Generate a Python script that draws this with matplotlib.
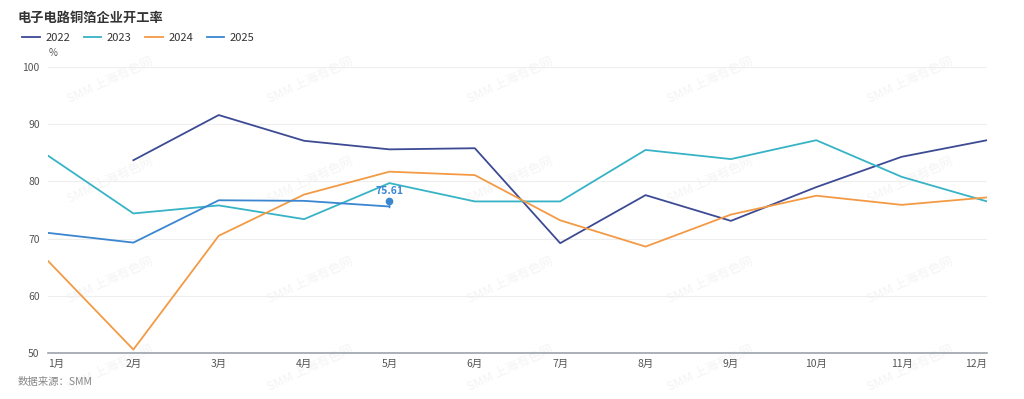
import matplotlib
matplotlib.use('Agg')
import matplotlib.pyplot as plt
import numpy as np

plt.rcParams['font.family'] = ['Noto Sans CJK SC', 'DejaVu Sans']

months = ['1月', '2月', '3月', '4月', '5月', '6月', '7月', '8月', '9月', '10月', '11月', '12月']
y2022 = [np.nan, 83.7, 91.6, 87.1, 85.6, 85.8, 69.2, 77.6, 73.1, 79.0, 84.3, 87.2]
y2023 = [84.5, 74.4, 75.8, 73.4, 79.7, 76.5, 76.5, 85.5, 83.9, 87.2, 80.8, 76.5]
y2024 = [66.1, 50.6, 70.5, 77.7, 81.7, 81.1, 73.2, 68.6, 74.2, 77.5, 75.9, 77.2]
y2025 = [71.0, 69.3, 76.7, 76.6, 75.61]
yticks = [50, 60, 70, 80, 90, 100]

series = [('2022', y2022, '#3d4a94'),
          ('2023', y2023, '#37b3c6'),
          ('2024', y2024, '#f39a45'),
          ('2025', y2025, '#3a86d1')]

fig = plt.figure(figsize=(10.24, 3.99), dpi=100)
ax = fig.add_axes([48/1024, 46/399, 939/1024, 286/399])

# watermark (behind everything)
for wx in [110, 310, 510, 710, 910]:
    for wy in [80, 180, 280, 368]:
        fig.text(wx/1024, 1 - wy/399, 'SMM 上海有色网', rotation=25, fontsize=9,
                 color='#f4f4f4', ha='center', va='center', zorder=-5)

x = np.arange(1, 13)
for name, vals, col in series:
    ax.plot(x[:len(vals)], vals, color=col, lw=1.3, label=name, zorder=3)

# last 2025 point label with pin marker
ax.plot(5, y2025[-1] + 1.0, marker='o', ms=4.5, color='#3a86d1', zorder=4)
ax.plot([5, 5], [y2025[-1], y2025[-1] + 1.0], color='#3a86d1', lw=1, zorder=4)
ax.text(5, y2025[-1] + 1.9, '%.2f' % y2025[-1], color='#3a86d1', fontsize=7.5,
        fontweight='bold', ha='center', va='bottom', zorder=5)

ax.set_xlim(1, 12)
ax.set_ylim(50, 100)
ax.set_xticks(x)
ax.set_xticklabels(months)
labels = ax.get_xticklabels()
labels[0].set_ha('left')
labels[-1].set_ha('right')
ax.set_yticks(yticks)
ax.tick_params(axis='both', length=0, labelsize=7.5, labelcolor='#555555')
ax.tick_params(axis='x', pad=4)
ax.tick_params(axis='y', pad=6)
ax.grid(axis='y', color='#eeeeee', lw=0.8)
ax.set_axisbelow(True)
for s in ['top', 'right', 'left']:
    ax.spines[s].set_visible(False)
ax.spines['bottom'].set_color('#9ca3ab')
ax.spines['bottom'].set_linewidth(1.2)
ax.patch.set_alpha(0)

fig.text(49/1024, 1 - 53/399, '%', fontsize=7, color='#555555', ha='left', va='center')
fig.text(18/1024, 1 - 18/399, '电子电路铜箔企业开工率', fontsize=9.5, fontweight='bold',
         color='#333333', ha='left', va='center')
fig.text(18/1024, 1 - 382/399, '数据来源：SMM', fontsize=7.5, style='italic',
         color='#888888', ha='left', va='center')

leg = fig.legend(loc='center left', bbox_to_anchor=(12/1024, 1 - 38/399), ncol=4,
                 frameon=False, fontsize=8, handlelength=1.6, handletextpad=0.5,
                 columnspacing=1.2, labelcolor='#333333')

fig.savefig('out.png', dpi=100)
